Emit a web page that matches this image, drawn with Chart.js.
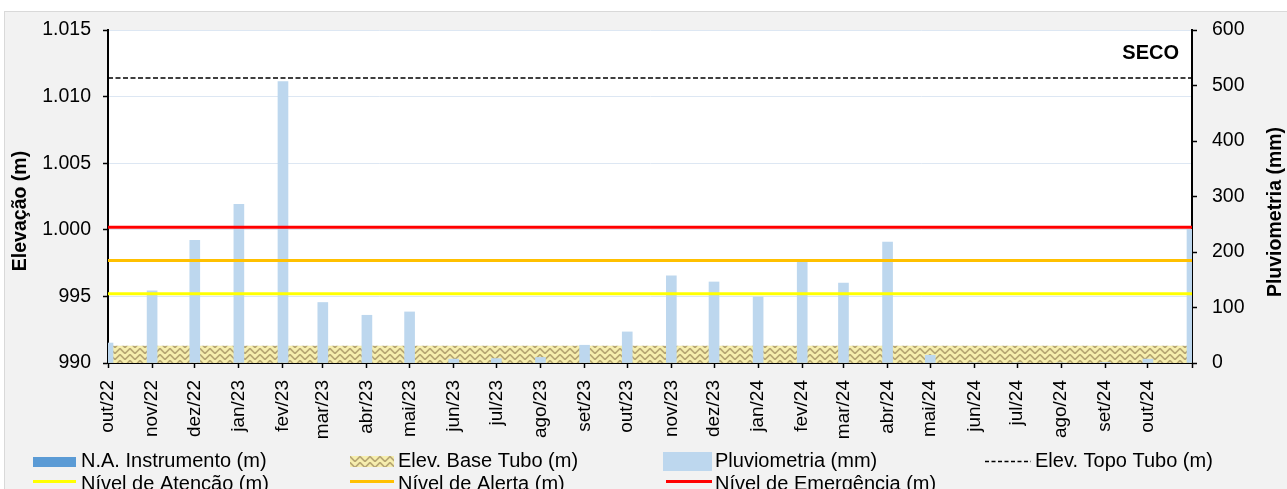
<!DOCTYPE html>
<html><head><meta charset="utf-8">
<script src="https://cdn.jsdelivr.net/npm/chart.js@4.4.1/dist/chart.umd.min.js"></script>
<style>html,body{margin:0;padding:0;background:#fff;overflow:hidden}canvas{display:block}</style>
</head><body>
<canvas id="c" width="1287" height="489"></canvas>
<script>
// ---- data ----
const months = ['2022-10','2022-11','2022-12','2023-01','2023-02','2023-03','2023-04','2023-05','2023-06','2023-07','2023-08','2023-09','2023-10','2023-11','2023-12','2024-01','2024-02','2024-03','2024-04','2024-05','2024-06','2024-07','2024-08','2024-09','2024-10','2024-11'];
const tickLabels = ['out/22','nov/22','dez/22','jan/23','fev/23','mar/23','abr/23','mai/23','jun/23','jul/23','ago/23','set/23','out/23','nov/23','dez/23','jan/24','fev/24','mar/24','abr/24','mai/24','jun/24','jul/24','ago/24','set/24','out/24',''];
const pluviometria = [36,130,221,286,507,109,86,92,7,8,10,32,56,157,146,119,184,144,218,14,0,0,0,1,7,241];
const naInstrumento = [null,null,null,null,null,null,null,null,null,null,null,null,null,null,null,null,null,null,null,null,null,null,null,null,null,null];
const elevBaseTubo = [991.3,991.3,991.3,991.3,991.3,991.3,991.3,991.3,991.3,991.3,991.3,991.3,991.3,991.3,991.3,991.3,991.3,991.3,991.3,991.3,991.3,991.3,991.3,991.3,991.3,991.3];
const elevTopoTubo = [1011.4,1011.4,1011.4,1011.4,1011.4,1011.4,1011.4,1011.4,1011.4,1011.4,1011.4,1011.4,1011.4,1011.4,1011.4,1011.4,1011.4,1011.4,1011.4,1011.4,1011.4,1011.4,1011.4,1011.4,1011.4,1011.4];
const nivelAtencao = [995.2,995.2,995.2,995.2,995.2,995.2,995.2,995.2,995.2,995.2,995.2,995.2,995.2,995.2,995.2,995.2,995.2,995.2,995.2,995.2,995.2,995.2,995.2,995.2,995.2,995.2];
const nivelAlerta = [997.7,997.7,997.7,997.7,997.7,997.7,997.7,997.7,997.7,997.7,997.7,997.7,997.7,997.7,997.7,997.7,997.7,997.7,997.7,997.7,997.7,997.7,997.7,997.7,997.7,997.7];
const nivelEmergencia = [1000.2,1000.2,1000.2,1000.2,1000.2,1000.2,1000.2,1000.2,1000.2,1000.2,1000.2,1000.2,1000.2,1000.2,1000.2,1000.2,1000.2,1000.2,1000.2,1000.2,1000.2,1000.2,1000.2,1000.2,1000.2,1000.2];
const statusText = 'SECO';

// ---- helpers ----
const FONT = '"Liberation Sans", Arial, sans-serif';
const t0 = Date.UTC(2022, 9, 1);
function dayOf(m){ const [y, mo] = m.split('-').map(Number); return (Date.UTC(y, mo-1, 1) - t0) / 86400000; }
const days = months.map(dayOf);
const pts = arr => arr.map((v, i) => ({x: days[i], y: v}));
function fmtPt(v){ return String(v).replace(/\B(?=(\d{3})+(?!\d))/g, '.'); }

function makePattern(){
  const p = document.createElement('canvas'); p.width = 10; p.height = 6;
  const g = p.getContext('2d');
  g.fillStyle = '#f6eeae'; g.fillRect(0,0,10,6);
  g.strokeStyle = '#b7a674'; g.lineWidth = 1.7;
  g.beginPath();
  g.moveTo(-5,5.5); g.lineTo(0,0.5); g.lineTo(5,5.5); g.lineTo(10,0.5); g.lineTo(15,5.5);
  g.stroke();
  return g.createPattern(p, 'repeat');
}
const hatch = makePattern();

const bgPlugin = {
  id: 'bg',
  beforeDraw(chart){
    const c = chart.ctx, a = chart.chartArea;
    c.save();
    c.fillStyle = '#fff'; c.fillRect(0,0,chart.width,chart.height);
    c.fillStyle = '#f2f2f2'; c.fillRect(4,11,chart.width,chart.height);
    c.strokeStyle = '#d9d9d9'; c.lineWidth = 1; c.strokeRect(4.5,11.5,chart.width+10,chart.height+10);
    c.fillStyle = '#fff'; c.fillRect(a.left, a.top, a.right-a.left, a.bottom-a.top);
    c.restore();
  }
};

const overlayPlugin = {
  id: 'overlay',
  afterDraw(chart){
    const c = chart.ctx;
    c.save();
    c.fillStyle = '#000';
    c.font = 'bold 20px ' + FONT; c.textAlign = 'right'; c.textBaseline = 'middle';
    c.fillText(statusText, 1179, 53);
    c.font = 'bold 19.5px ' + FONT; c.textAlign = 'center';
    c.save(); c.translate(21, 211); c.rotate(-Math.PI/2); c.fillText('Elevação (m)', 0, 0); c.restore();
    c.save(); c.translate(1276, 212); c.rotate(-Math.PI/2); c.fillText('Pluviometria (mm)', 0, 0); c.restore();
    const ds = chart.data.datasets;
    c.font = '20px ' + FONT; c.textAlign = 'left'; c.textBaseline = 'alphabetic'; c.fillStyle = '#000';
    const y1 = 467, y2 = 490;
    c.fillStyle = ds[0].backgroundColor; c.fillRect(33,457,43,10);
    c.fillStyle = '#000'; c.fillText(ds[0].label, 81, y1);
    c.fillStyle = hatch; c.fillRect(350,456,44,11);
    c.fillStyle = '#000'; c.fillText(ds[1].label, 398, y1);
    c.fillStyle = ds[2].backgroundColor; c.fillRect(663,452,49,19);
    c.fillStyle = '#000'; c.fillText(ds[2].label, 715, y1);
    c.strokeStyle = '#000'; c.lineWidth = 1.5; c.setLineDash([4,2.5]);
    c.beginPath(); c.moveTo(985,461.5); c.lineTo(1031,461.5); c.stroke(); c.setLineDash([]);
    c.fillText(ds[3].label, 1035, y1);
    const lineItem = (d, x0, x1, tx) => {
      c.strokeStyle = d.borderColor; c.lineWidth = 3;
      c.beginPath(); c.moveTo(x0, 481.5); c.lineTo(x1, 481.5); c.stroke();
      c.fillStyle = '#000'; c.fillText(d.label, tx, y2);
    };
    lineItem(ds[4], 33, 76, 81);
    lineItem(ds[5], 350, 394, 398);
    lineItem(ds[6], 666, 712, 715);
    c.restore();
  }
};

const tickFont = {family: FONT, size: 19};
new Chart(document.getElementById('c'), {
  data: {
    datasets: [
      {type:'bar', label:'N.A. Instrumento (m)', data: pts(naInstrumento), yAxisID:'y', backgroundColor:'#5b9bd5', barThickness:10, grouped:false, order:4},
      {type:'line', label:'Elev. Base Tubo (m)', data: pts(elevBaseTubo), yAxisID:'y', backgroundColor: hatch, borderWidth:0, pointRadius:0, fill:'start', tension:0, order:10},
      {type:'bar', label:'Pluviometria (mm)', data: pts(pluviometria), yAxisID:'y1', backgroundColor:'#bdd7ee', barThickness:10, grouped:false, order:5},
      {type:'line', label:'Elev. Topo Tubo (m)', data: pts(elevTopoTubo), yAxisID:'y', borderColor:'#000', borderWidth:1.5, borderDash:[5,2.5], pointRadius:0, fill:false, order:1},
      {type:'line', label:'Nível de Atenção (m)', data: pts(nivelAtencao), yAxisID:'y', borderColor:'#ffff00', borderWidth:3, pointRadius:0, fill:false, order:1},
      {type:'line', label:'Nível de Alerta (m)', data: pts(nivelAlerta), yAxisID:'y', borderColor:'#ffc000', borderWidth:3, pointRadius:0, fill:false, order:1},
      {type:'line', label:'Nível de Emergência (m)', data: pts(nivelEmergencia), yAxisID:'y', borderColor:'#ff0000', borderWidth:3, pointRadius:0, fill:false, order:1}
    ]
  },
  options: {
    responsive:false, animation:false, devicePixelRatio:1,
    layout:{padding:{top:30, left:0, right:0, bottom:0}},
    plugins:{legend:{display:false}, tooltip:{enabled:false}},
    scales:{
      x:{type:'linear', min: days[0], max: days[days.length-1], offset:false,
        afterBuildTicks: s => { s.ticks = days.map(v => ({value:v})); },
        afterFit: s => { s.height = 126; },
        ticks:{autoSkip:false, minRotation:90, maxRotation:90, padding:12, color:'#000', font:tickFont,
          callback:(v, i) => tickLabels[i]},
        grid:{offset:false, drawOnChartArea:false, tickLength:5, tickColor:'#000', tickWidth:1.5},
        border:{color:'#000', width:2}},
      y:{type:'linear', position:'left', min:990, max:1015,
        afterFit: s => { s.width = 108; },
        ticks:{stepSize:5, padding:12, color:'#000', font:{family: FONT, size: 19.5}, callback: v => fmtPt(v)},
        grid:{color:'#dde7f3', lineWidth:1, tickColor:'#000', tickLength:5, tickWidth:1.5},
        border:{color:'#000', width:2}},
      y1:{type:'linear', position:'right', min:0, max:600,
        afterFit: s => { s.width = 95; },
        ticks:{stepSize:100, padding:15, color:'#000', font:{family: FONT, size: 19.5}},
        grid:{drawOnChartArea:false, tickColor:'#000', tickLength:5, tickWidth:1.5},
        border:{color:'#000', width:2}}
    }
  },
  plugins:[bgPlugin, overlayPlugin]
});
</script>
</body></html>
